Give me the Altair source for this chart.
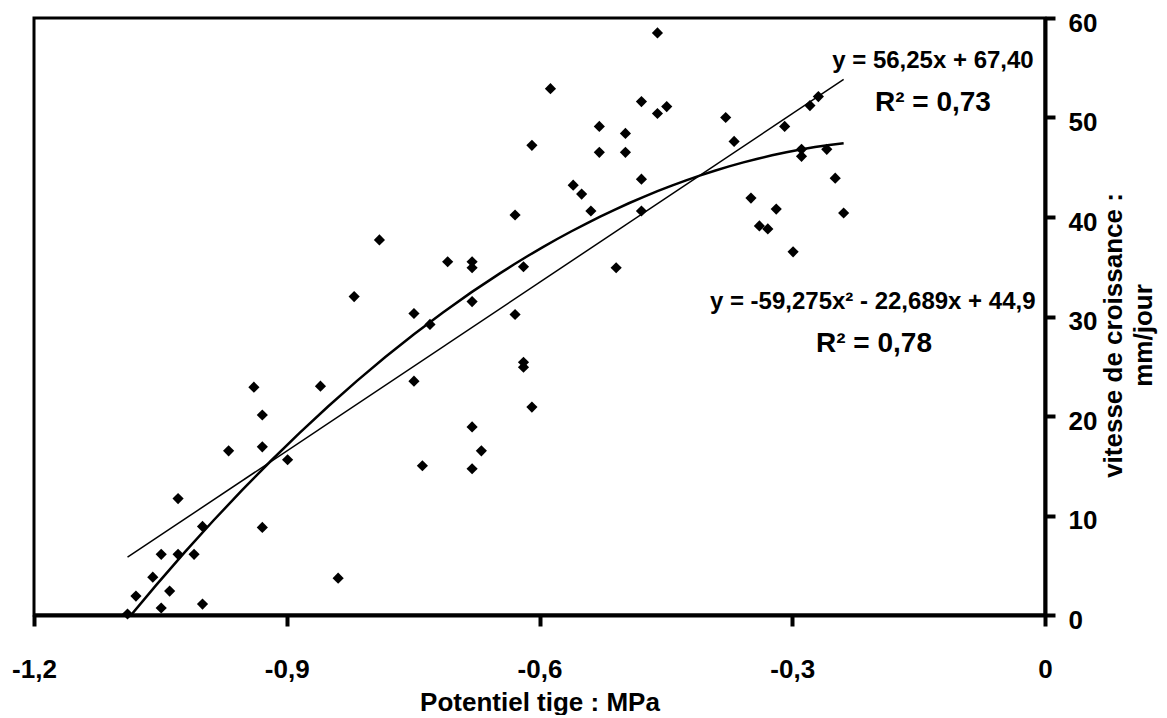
import altair as alt
import pandas as pd

# Potentiel tige (MPa) and vitesse de croissance (mm/jour)
potentiel = [
    -0.939, -0.860, -0.929, -0.969, -0.929, -0.899, -1.029, -1.000, -0.929, -1.049,
    -1.029, -1.010, -1.059, -0.839, -1.079, -1.039, -1.049, -1.000, -1.089,
    -0.560, -0.550, -0.479, -0.629, -0.539, -0.479, -0.790, -0.709, -0.680, -0.680,
    -0.619, -0.509, -0.820, -0.680, -0.749, -0.629, -0.730, -0.619, -0.619, -0.749,
    -0.609, -0.680, -0.669, -0.739, -0.680,
    -0.460, -0.587, -0.479, -0.449, -0.460, -0.529, -0.498, -0.529, -0.498, -0.379,
    -0.369, -0.309, -0.279, -0.269, -0.289, -0.289, -0.259, -0.249, -0.239, -0.349,
    -0.319, -0.339, -0.329, -0.299, -0.609,
]
vitesse = [
    22.9, 23.0, 20.1, 16.5, 16.9, 15.6, 11.7, 8.9, 8.8, 6.1,
    6.1, 6.1, 3.8, 3.7, 1.9, 2.4, 0.7, 1.1, 0.1,
    43.2, 42.3, 43.8, 40.2, 40.6, 40.6, 37.7, 35.5, 35.5, 34.9,
    35.0, 34.9, 32.0, 31.5, 30.3, 30.2, 29.2, 25.4, 24.9, 23.5,
    20.9, 18.9, 16.5, 15.0, 14.7,
    58.5, 52.9, 51.6, 51.1, 50.4, 49.1, 48.4, 46.5, 46.5, 50.0,
    47.6, 49.1, 51.2, 52.1, 46.8, 46.1, 46.8, 43.9, 40.4, 41.9,
    40.8, 39.1, 38.8, 36.5, 47.2,
]

x_ticks = [-1.2, -0.9, -0.6, -0.3, 0]
y_ticks = [0, 10, 20, 30, 40, 50, 60]

eq_texts = ["y = 56,25x + 67,40", "y = -59,275x\u00b2 - 22,689x + 44,9"]
eq_x = [-0.133, -0.2045]
eq_y = [55.0, 30.8]
r2_texts = ["R\u00b2 = 0,73", "R\u00b2 = 0,78"]
r2_x = [-0.133, -0.203]
r2_y = [50.7, 26.4]

FONT = "Liberation Sans"

df = pd.DataFrame({"potentiel": potentiel, "vitesse": vitesse})
eq_df = pd.DataFrame({"t": eq_texts, "x": eq_x, "y": eq_y})
r2_df = pd.DataFrame({"t": r2_texts, "x": r2_x, "y": r2_y})

x_scale = alt.Scale(domain=[-1.2, 0], nice=False, zero=False)
y_scale = alt.Scale(domain=[0, 60], nice=False)

x_axis = alt.Axis(
    values=x_ticks,
    labelExpr="replace(datum.value + '', '.', ',')",
    title="Potentiel tige : MPa",
    grid=False,
    domainColor="black", domainWidth=4,
    tickColor="black", tickWidth=4, tickSize=11,
    labelFont=FONT, labelFontSize=26, labelFontWeight="bold", labelColor="black",
    labelPadding=30, labelFlush=False, labelOverlap=False,
    titleFont=FONT, titleFontSize=26, titleFontWeight="bold", titleColor="black",
    titleY=95, titleBaseline="alphabetic",
)

y_axis = alt.Axis(
    orient="right",
    values=y_ticks,
    grid=False,
    domainColor="black", domainWidth=4,
    tickColor="black", tickWidth=4, tickSize=10,
    labelFont=FONT, labelFontSize=26, labelFontWeight="bold", labelColor="black",
    labelPadding=13, labelAlign="left", labelBaseline="middle", labelOffset=5,
    labelFlush=False, labelOverlap=False,
    title=["vitesse de croissance :", "mm/jour"],
    titleFont=FONT, titleFontSize=26, titleFontWeight="bold", titleColor="black",
    titleAngle=270, titleLineHeight=30, titleX=68, titleY=317,
    titleAlign="center", titleBaseline="middle",
)

base = alt.Chart(df)

points = base.mark_point(shape="diamond", filled=True, size=125, color="black", opacity=1).encode(
    x=alt.X("potentiel:Q", scale=x_scale, axis=x_axis),
    y=alt.Y("vitesse:Q", scale=y_scale, axis=y_axis),
)

lin = base.transform_regression("potentiel", "vitesse", method="linear").mark_line(
    color="black", strokeWidth=1.5
).encode(x=alt.X("potentiel:Q", scale=x_scale), y=alt.Y("vitesse:Q", scale=y_scale))

poly = base.transform_regression("potentiel", "vitesse", method="poly", order=2).mark_line(
    color="black", strokeWidth=2.5, clip=True
).encode(x=alt.X("potentiel:Q", scale=x_scale), y=alt.Y("vitesse:Q", scale=y_scale))

eqs = alt.Chart(eq_df).mark_text(
    font=FONT, fontSize=24, fontWeight="bold", color="black", align="center", baseline="alphabetic"
).encode(x=alt.X("x:Q", scale=x_scale), y=alt.Y("y:Q", scale=y_scale), text="t:N")

r2s = alt.Chart(r2_df).mark_text(
    font=FONT, fontSize=28, fontWeight="bold", color="black", align="center", baseline="alphabetic"
).encode(x=alt.X("x:Q", scale=x_scale), y=alt.Y("y:Q", scale=y_scale), text="t:N")

chart = alt.layer(lin, poly, points, eqs, r2s).properties(
    width=1011,
    height=597,
    padding={"left": 26, "top": 10, "right": 114, "bottom": 100},
    autosize=alt.AutoSizeParams(type="none"),
    background="white",
).configure_view(stroke="black", strokeWidth=3)

chart.save("out.html", embed_options={"renderer": "svg", "actions": False})
